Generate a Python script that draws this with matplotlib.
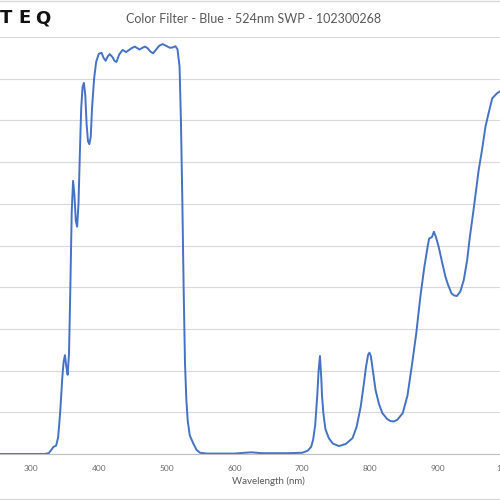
import matplotlib
matplotlib.use("Agg")
import matplotlib.pyplot as plt
from matplotlib.lines import Line2D

wavelength = [250, 300, 320, 326, 330, 333, 337, 340, 343, 346, 348, 350, 352, 354, 356, 358, 360, 362, 364, 366,
              368, 370, 372, 374, 376, 378, 380, 382, 384, 386, 388, 390, 393, 396, 400, 404, 407, 410, 413, 416,
              420, 423, 426, 430, 435, 440, 443, 448, 453, 457, 460, 464, 468, 472, 476, 480, 484, 489, 494, 499,
              505, 509, 513, 516, 519, 521, 523, 525, 527, 529, 531, 534, 539, 544, 549, 560, 600, 615, 625, 640,
              680, 700, 708, 713, 716, 719, 722, 724, 726, 728, 729, 731, 734, 739, 745, 754, 764, 774, 780, 786,
              790, 794, 797, 799, 801, 804, 808, 813, 818, 825, 830, 835, 840, 848, 855, 862, 868, 874, 880, 885,
              887, 891, 894, 897, 901, 906, 911, 915, 920, 924, 928, 933, 938, 943, 947, 952, 956, 960, 965, 970,
              975, 980, 984, 987, 992, 1000]
transmission = [0, 0, 0, 0.2, 1.0, 1.7, 2.0, 4, 10, 18, 22, 23.7, 21, 19, 24, 40, 58, 65.5, 62, 56,
                54.5, 60, 72, 83, 88, 89, 86, 79, 75, 74.3, 76, 83, 90, 94, 96, 96.2, 95, 94.3, 95.3, 95.9,
                95.2, 94.3, 94, 95.8, 96.9, 96.4, 96.7, 97.3, 97.7, 97.3, 97, 97.4, 97.7, 97.3, 96.5, 96.1, 96.9, 97.9, 98.3, 97.9,
                97.4, 97.5, 97.8, 97, 92.9, 80, 61.7, 40, 21.8, 13, 8, 4.5, 2.6, 1.0, 0.3, 0.1, 0.1, 0.3, 0.4, 0.2,
                0.2, 0.3, 0.8, 1.7, 3.5, 7, 14, 20, 23.5, 18, 14, 9.8, 6, 3.8, 2.5, 1.9, 2.4, 3.8, 6.5, 11.3,
                16, 21, 23.8, 24.3, 23.5, 20, 15.3, 12, 9.8, 8.4, 7.9, 7.8, 8.2, 9.8, 14, 21.8, 29, 37.7, 45, 50,
                51.7, 52, 53.3, 52, 49.7, 46, 42.5, 40.5, 38.5, 38, 37.9, 39, 41.7, 46.5, 52.1, 58, 63, 68.1, 73, 78.5,
                82, 85.3, 86, 86.5, 87, 88]
xticks = [300, 400, 500, 600, 700, 800, 900, 1000]
yticks = [0, 10, 20, 30, 40, 50, 60, 70, 80, 90, 100]
title = "Color Filter - Blue - 524nm SWP - 102300268"
xlabel = "Wavelength (nm)"
logo = "TEQ"

W = H = 500
fig = plt.figure(figsize=(5, 5), dpi=100)
ax = fig.add_axes([-40 / W, 1 - 454 / H, 580 / W, (454 - 37) / H])
ax.plot(wavelength, transmission, color="#4472C4", lw=1.4)
ax.set_xlim(195.3, 1050.4)
ax.set_ylim(0, 100)
ax.set_xticks(xticks)
ax.set_yticks(yticks)
ax.set_yticklabels([])
ax.tick_params(length=0, labelsize=6, labelcolor="#6b6b6b", pad=8)
for lab in ax.get_xticklabels():
    lab.set_fontfamily("Lato")
ax.grid(axis="y", color="#D9D9D9", lw=0.8)
ax.set_axisbelow(True)
for s in ["top", "left", "right"]:
    ax.spines[s].set_visible(False)
ax.spines["bottom"].set_color("#BFBFBF")
ax.spines["bottom"].set_linewidth(0.8)

fig.text(254 / W, 1 - 19 / H, title, ha="center", va="center", fontsize=9,
         color="#595959", family="Lato")
fig.text(268 / W, 1 - 481 / H, xlabel, ha="center", va="center", fontsize=7,
         color="#595959", family="Lato")
for ch, cx in zip(logo, [6.5, 24, 43]):
    fig.text(cx / W, 1 - 18 / H, ch, ha="center", va="center", fontsize=13,
             color="#111111", family="DejaVu Sans", fontweight="bold")
fig.add_artist(Line2D([0, 1], [1 - 1 / H, 1 - 1 / H], transform=fig.transFigure, color="#D9D9D9", lw=1))
fig.add_artist(Line2D([0, 1], [1 - 499 / H, 1 - 499 / H], transform=fig.transFigure, color="#D9D9D9", lw=1))

fig.savefig("out.png", dpi=100)
